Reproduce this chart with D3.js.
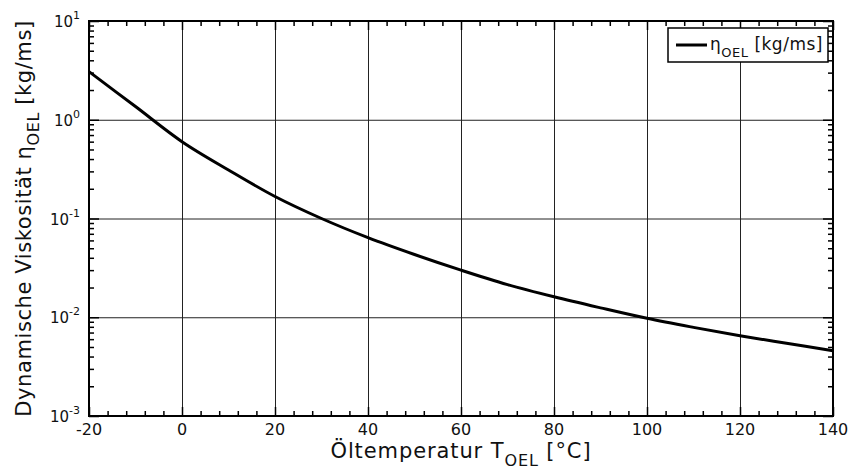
<!DOCTYPE html>
<html>
<head>
<meta charset="utf-8">
<script src="https://cdn.jsdelivr.net/npm/d3@7"></script>
<style>
  html, body { margin: 0; padding: 0; background: #fff; }
  svg { display: block; font-family: "DejaVu Sans", Verdana, sans-serif; }
</style>
</head>
<body>
<svg id="chart" width="850" height="470"></svg>
<script>
// ---- data ----
const temperatures = [-20, -10, 0, 10, 20, 30, 40, 50, 60, 70, 80, 90, 100, 110, 120, 130, 140];
const viscosity = [3.07, 1.36, 0.60, 0.31, 0.167, 0.100, 0.064, 0.0432, 0.030, 0.0214, 0.0161, 0.01245, 0.00975, 0.0079, 0.0065, 0.00545, 0.00458];
const xTickValues = [-20, 0, 20, 40, 60, 80, 100, 120, 140];
const yDecadeExponents = [-3, -2, -1, 0, 1];
const seriesName = "η";
const seriesSub = "OEL";
const seriesUnit = " [kg/ms]";

// ---- layout ----
const svg = d3.select("#chart");
const L = 89, R = 833, T = 21, B = 416;
const x = d3.scaleLinear().domain([-20, 140]).range([L, R]);
const y = d3.scaleLog().domain([1e-3, 1e1]).range([B, T]);

const xMinor = d3.range(-20, 141, 4).filter(v => !xTickValues.includes(v));
const yMinor = [];
yDecadeExponents.slice(0, -1).forEach(e => { for (let k = 2; k <= 9; k++) yMinor.push(k * Math.pow(10, e)); });
const yMajor = yDecadeExponents.map(e => Math.pow(10, e));

function clean(g) { g.select(".domain").remove(); g.selectAll("text").remove(); }

// grid lines
svg.append("g").attr("transform", `translate(0,${B})`)
  .call(d3.axisBottom(x).tickValues(xTickValues.slice(1, -1)).tickSize(-(B - T)).tickFormat(""))
  .call(clean).selectAll("line").attr("stroke", "#222").attr("stroke-width", 1);
svg.append("g").attr("transform", `translate(${L},0)`)
  .call(d3.axisLeft(y).tickValues(yMajor.slice(1, -1)).tickSize(-(R - L)).tickFormat(""))
  .call(clean).selectAll("line").attr("stroke", "#222").attr("stroke-width", 1);

// ticks (inward)
function ticks(axisFn, scale, vals, size, transform) {
  svg.append("g").attr("transform", transform)
    .call(axisFn(scale).tickValues(vals).tickSize(-size).tickFormat(""))
    .call(clean).selectAll("line").attr("stroke", "#000").attr("stroke-width", 1.5);
}
ticks(d3.axisBottom, x, xMinor, 5, `translate(0,${B})`);
ticks(d3.axisTop, x, xMinor, 5, `translate(0,${T})`);
ticks(d3.axisBottom, x, xTickValues, 9, `translate(0,${B})`);
ticks(d3.axisTop, x, xTickValues, 9, `translate(0,${T})`);
ticks(d3.axisLeft, y, yMinor, 5, `translate(${L},0)`);
ticks(d3.axisRight, y, yMinor, 5, `translate(${R},0)`);
ticks(d3.axisLeft, y, yMajor, 10, `translate(${L},0)`);
ticks(d3.axisRight, y, yMajor, 10, `translate(${R},0)`);

// x tick labels
svg.append("g").selectAll("text").data(xTickValues).join("text")
  .attr("x", d => x(d)).attr("y", 435)
  .attr("text-anchor", "middle").attr("font-size", 16).attr("fill", "#111")
  .text(d => d);

// y tick labels
const yl = svg.append("g").selectAll("text").data(yDecadeExponents).join("text")
  .attr("x", 80).attr("y", d => y(Math.pow(10, d)) + 6)
  .attr("text-anchor", "end").attr("font-size", 15).attr("fill", "#111");
yl.append("tspan").text("10");
yl.append("tspan").attr("dy", -8).attr("font-size", 11).text(d => d);

// line
const line = d3.line().x((d, i) => x(temperatures[i])).y(d => y(d)).curve(d3.curveCatmullRom);
svg.append("path").datum(viscosity)
  .attr("d", line).attr("fill", "none").attr("stroke", "#000").attr("stroke-width", 3);

// frame
svg.append("rect").attr("x", L).attr("y", T).attr("width", R - L).attr("height", B - T)
  .attr("fill", "none").attr("stroke", "#000").attr("stroke-width", 2);

// legend
const lg = svg.append("g");
lg.append("rect").attr("x", 668).attr("y", 28).attr("width", 160).attr("height", 34)
  .attr("fill", "#fff").attr("stroke", "#000").attr("stroke-width", 1.5);
lg.append("line").attr("x1", 676).attr("x2", 707).attr("y1", 45).attr("y2", 45)
  .attr("stroke", "#000").attr("stroke-width", 3);
const lt = lg.append("text").attr("x", 710).attr("y", 50).attr("font-size", 17)
  .attr("letter-spacing", 0.5).attr("fill", "#111");
lt.append("tspan").text(seriesName);
lt.append("tspan").attr("dy", 7).attr("font-size", 13).text(seriesSub);
lt.append("tspan").attr("dy", -7).text(seriesUnit);

// axis titles
const xt = svg.append("text").attr("x", (L + R) / 2).attr("y", 458)
  .attr("text-anchor", "middle").attr("font-size", 21).attr("letter-spacing", 0.9).attr("fill", "#111");
xt.append("tspan").text("Öltemperatur T");
xt.append("tspan").attr("dy", 8).attr("font-size", 16).text("OEL");
xt.append("tspan").attr("dy", -8).text(" [°C]");

const yt = svg.append("text")
  .attr("transform", `translate(31,${(T + B) / 2}) rotate(-90)`)
  .attr("text-anchor", "middle").attr("font-size", 21).attr("letter-spacing", 0.6).attr("fill", "#111");
yt.append("tspan").text("Dynamische Viskosität η");
yt.append("tspan").attr("dy", 8).attr("font-size", 16).text("OEL");
yt.append("tspan").attr("dy", -8).text(" [kg/ms]");
</script>
</body>
</html>
